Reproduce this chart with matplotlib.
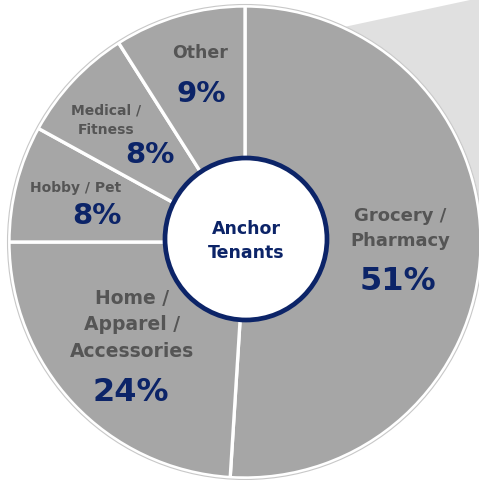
import matplotlib
matplotlib.use("Agg")
import matplotlib.pyplot as plt
from matplotlib.patches import Circle, Polygon

# data
categories = ["Grocery /\nPharmacy", "Home /\nApparel /\nAccessories", "Hobby / Pet",
              "Medical /\nFitness", "Other"]
shares = [51, 24, 8, 8, 9]
pct_labels = ["51%", "24%", "8%", "8%", "9%"]

W, H = 479, 481
GRAY = "#a6a6a6"
LABEL = "#555555"
NAVY = "#0c2468"
FONT = ["DejaVu Sans"]

fig = plt.figure(figsize=(W / 100, H / 100), dpi=100)
ax = fig.add_axes([0, 0, 1, 1])

cx, cy, r = 245, H - 243, 236

# light gray backdrop at top right
ax.add_patch(Polygon([(330, H - 31), (W + 5, H + 2), (W + 5, H - 243), (330, H - 243)],
                     closed=True, fc="#e0e0e0", ec="none", zorder=0))

wedges, _ = ax.pie(shares, radius=r, center=(cx, cy), startangle=90, counterclock=False,
                   colors=[GRAY] * len(shares),
                   wedgeprops=dict(edgecolor="white", linewidth=2.4))
for w in wedges:
    w.set_zorder(1)
ax.add_patch(Circle((cx, cy), r + 1.5, fc="none", ec="#c8c8c8", lw=0.8, zorder=2))

# center hub
ax.add_patch(Circle((246, H - 240), 81, fc="white", ec=NAVY, lw=3.4, zorder=3))
ax.text(246, H - 241, "Anchor\nTenants", ha="center", va="center", color=NAVY,
        fontsize=12.5, fontweight="bold", family=FONT, linespacing=1.45, zorder=4)

# label positions (pixels from top-left) and sizes
name_pos = [(400, 229), (132, 325), (76, 188), (106, 120), (200, 53)]
name_size = [13, 13.5, 10, 10, 12.5]
pct_pos = [(398, 282), (131, 393), (97, 216), (150, 155), (201, 94)]
pct_size = [23, 23, 21, 21, 21]

for name, p, (nx, ny), ns, (px, py), ps in zip(categories, pct_labels, name_pos,
                                                name_size, pct_pos, pct_size):
    ax.text(nx, H - ny, name, ha="center", va="center", color=LABEL, fontsize=ns,
            fontweight="bold", family=FONT, linespacing=1.5, zorder=4)
    ax.text(px, H - py, p, ha="center", va="center", color=NAVY, fontsize=ps,
            fontweight="bold", family=FONT, zorder=4)

ax.set_xlim(0, W)
ax.set_ylim(0, H)
ax.set_aspect("equal")
ax.axis("off")

fig.savefig("out.png", dpi=100)
